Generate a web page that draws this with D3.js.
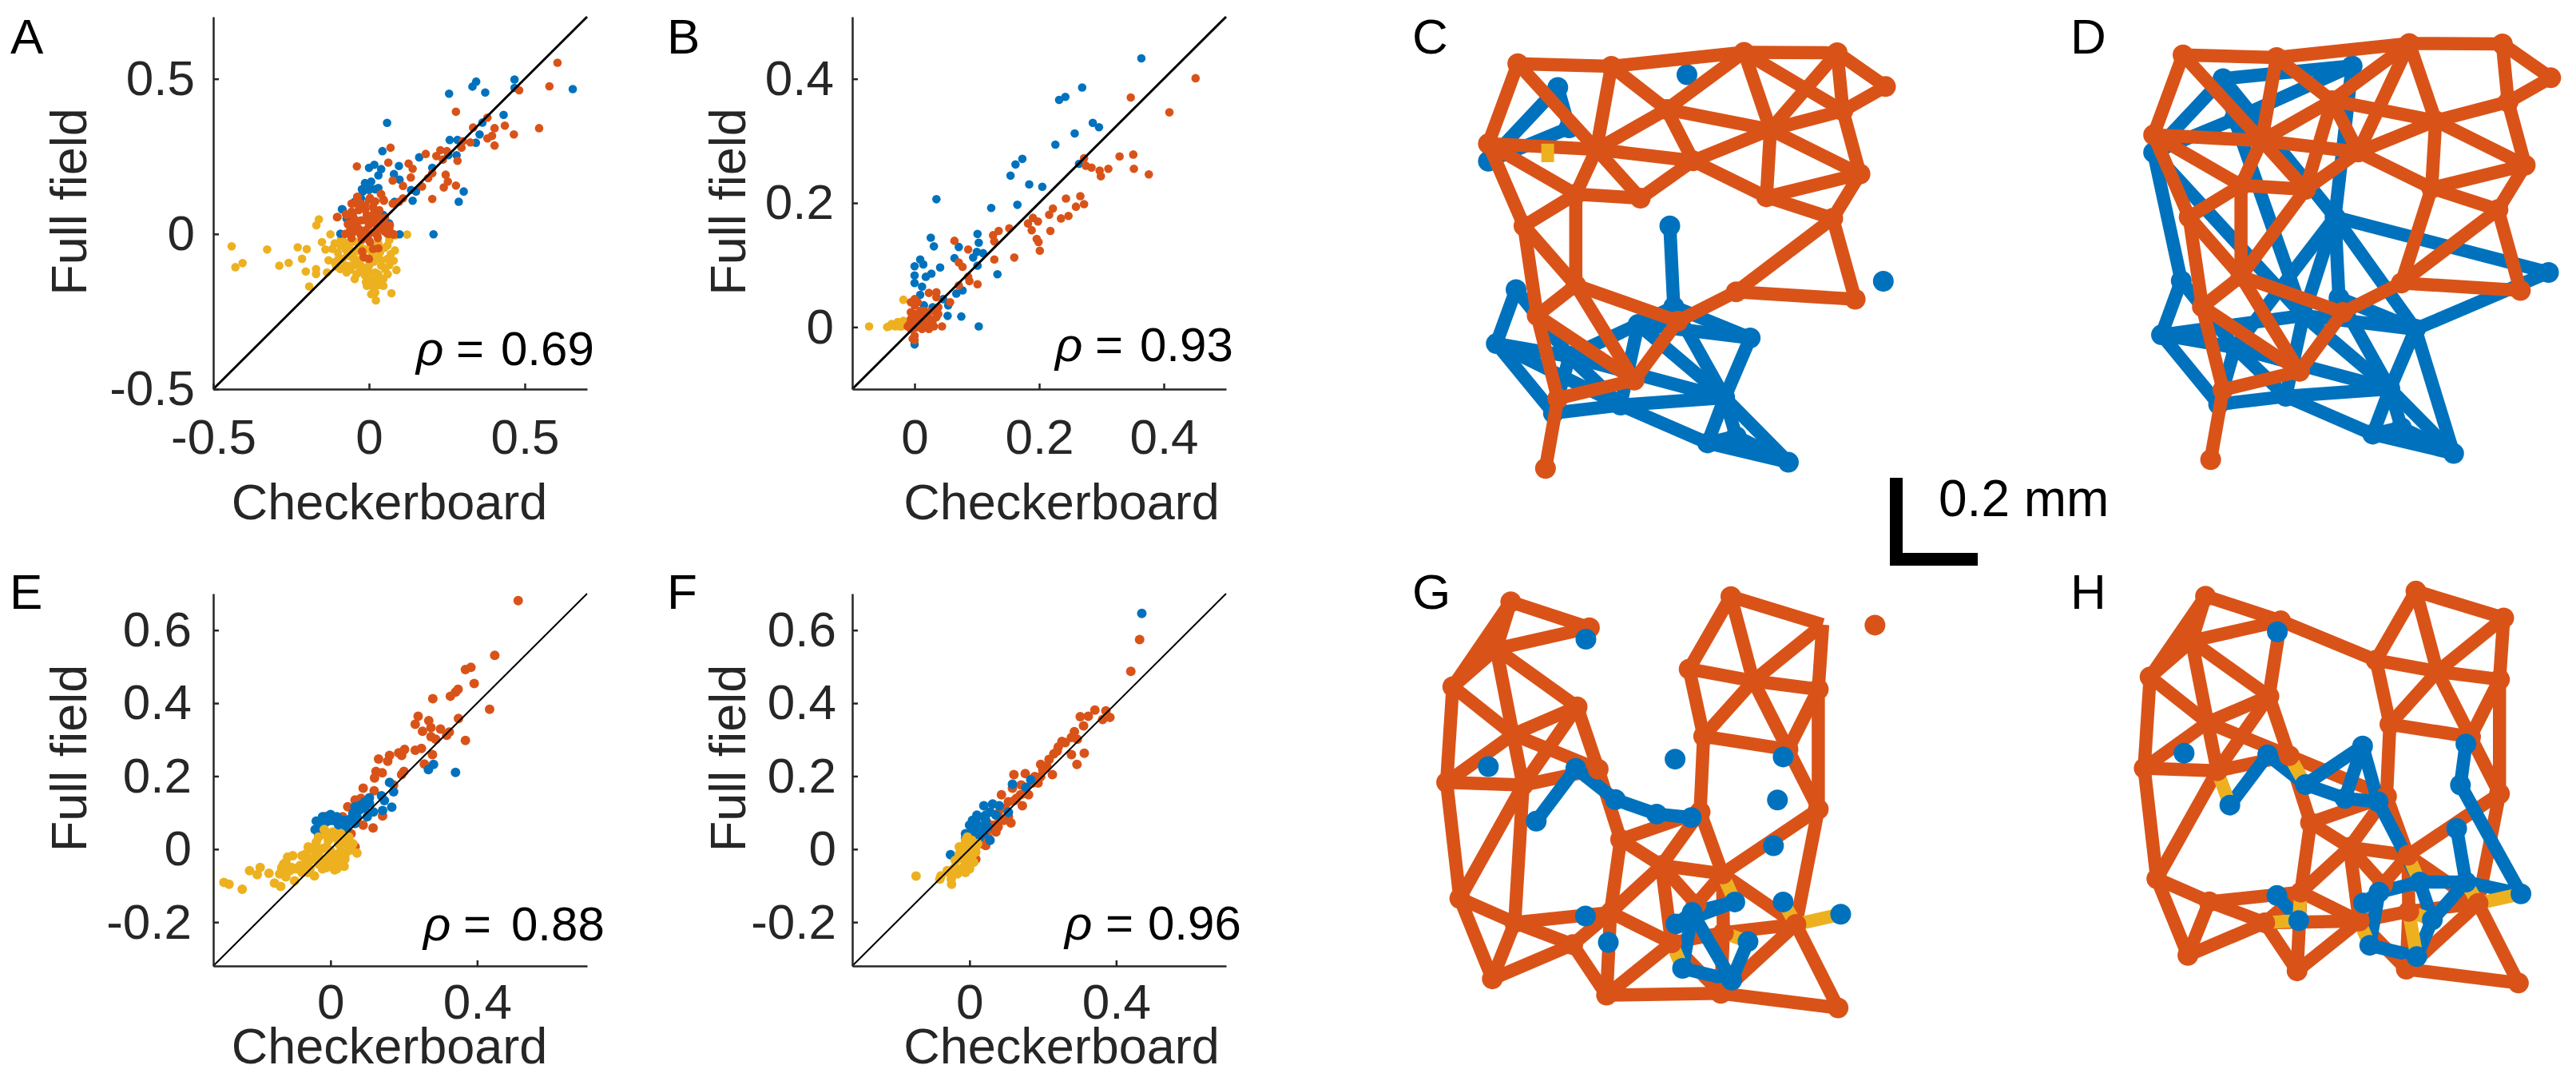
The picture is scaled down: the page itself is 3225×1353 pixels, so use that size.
<!DOCTYPE html>
<html>
<head>
<meta charset="utf-8">
<script src="https://cdn.jsdelivr.net/npm/d3@7"></script>
<style>
body { margin: 0; background: #fff; }
text { font-family: "Liberation Sans", sans-serif; }
</style>
</head>
<body>
<svg id="fig" width="3225" height="1353"></svg>
<script>
const blue = "#0072bd", orange = "#d95319", yellow = "#edb120", ink = "#262626";

// scatter values, checkerboard vs full field
const aBlue = [[.654,.467],[.467,.498],[.467,.471],[.344,.491],[.332,.475],[.373,.456],[.257,.452],[.432,.384],[.058,.358],[.364,.359],[.355,.321],[.259,.303],[.284,.303],[.343,.294],[.043,.267],[.161,.247],[.281,.254],[.255,.254],[0,.213],[.017,.223],[.039,.209],[.096,.219],[.03,.189],[.08,.193],[.098,.175],[.203,.213],[-.013,.164],[.007,.169],[-.02,.137],[.03,.148],[0,.142],[.135,.142],[.151,.137],[.304,.137],[.288,.104],[.14,.107],[.082,.104],[-.085,.079],[-.072,.05],[.046,.061],[.065,.034],[-.092,.001],[.098,-.001],[.207,-.001],[-.046,.104],[-.026,.115],[-.023,.144],[.003,.149],[.02,.144],[-.087,.08]];
const aOrange = [[.605,.552],[.579,.476],[.482,.463],[.279,.394],[.546,.341],[.38,.375],[.334,.343],[.403,.341],[.436,.349],[.465,.321],[.395,.316],[.38,.308],[.403,.285],[.325,.295],[.301,.299],[.297,.278],[.069,.278],[.229,.27],[.25,.267],[.182,.258],[.216,.251],[.237,.24],[.284,.236],[-.039,.218],[.062,.23],[.127,.227],[.14,.21],[.203,.196],[.246,.191],[.19,.18],[.134,.182],[.076,.172],[.253,.169],[.109,.155],[.279,.156],[.24,.15],[.17,.153],[.109,.115],[.203,.113],[.096,.104],[.076,.098],[.039,.128],[-.037,.12],[.048,.107],[-.046,.099],[-.101,.055],[-.072,.061],[0,.11],[-.013,.093],[.013,.088],[.033,.077],[-.033,.077],[-.052,.061],[-.007,.061],[.02,.05],[.046,.039],[-.026,.044],[-.059,.034],[0,.028],[-.033,.017],[.033,.017],[.065,.017],[-.062,.007],[0,.001],[.026,-.004],[.059,.001],[-.026,-.004],[.079,-.002],[0,-.021],[-.02,-.01],[.013,-.048],[.03,-.046],[-.022,-.056],[-.017,-.075],[0,-.08],[.003,.116],[-.038,.119],[-.056,.098],[.038,.129],[.046,.111],[-.103,.054],[-.074,.064],[-.056,.072],[-.023,.093],[.013,.085],[-.077,0],[-.056,-.013],[-.023,-.018],[.003,-.026],[.028,-.013],[.064,0],[.077,0],[.067,.028],[.051,.052],[-.068,.032],[-.048,.05],[-.04,.028],[-.045,.008],[-.012,.078],[-.015,.045],[-.012,.012],[.015,.065],[.018,.034],[.015,.005],[.035,.052],[.05,.008],[.042,.027],[-.03,.1],[.02,.105],[-.06,.018],[.008,.045]];
const aYellow = [[-.441,-.04],[-.327,-.05],[-.429,-.107],[-.406,-.094],[-.288,-.102],[-.258,-.093],[-.229,-.043],[-.2,-.049],[-.215,-.08],[-.169,.028],[-.161,.047],[-.203,-.121],[-.17,-.113],[-.17,-.129],[-.192,-.169],[-.135,-.124],[-.151,-.026],[-.124,-.001],[-.14,-.05],[-.118,-.048],[-.111,-.091],[-.098,-.08],[-.079,-.026],[-.092,-.113],[-.072,-.124],[-.059,-.053],[-.046,-.08],[-.046,-.145],[-.026,-.102],[-.013,-.134],[-.007,-.167],[.007,-.194],[.022,-.214],[.02,-.189],[0,-.102],[.02,-.124],[.039,-.102],[.046,-.145],[.046,-.167],[.072,-.191],[.088,-.116],[.079,-.086],[.083,-.053],[.059,-.08],[.085,-.004],[.122,-.002],[.026,-.069],[-.02,-.048],[-.059,-.102],[-.033,-.124],[0,-.145],[.026,-.151],[.052,-.113],[.059,-.037],[-.092,-.037],[-.039,-.026],[-.072,-.102],[-.11,-.03],[-.09,-.015],[-.1,-.06],[-.075,-.05],[-.06,-.03],[-.085,-.08],[-.07,-.07],[-.055,-.075],[-.04,-.055],[-.03,-.03],[-.02,-.07],[-.045,-.1],[-.03,-.085],[-.01,-.05],[-.005,-.08],[.005,-.03],[.01,-.06],[.015,-.09],[.03,-.03],[.035,-.06],[.04,-.085],[.05,-.045],[.065,-.02],[.07,-.065],[-.08,-.105],[-.06,-.115],[-.04,-.13],[-.015,-.115],[.005,-.125],[.03,-.13],[.015,-.15],[-.01,-.155],[.03,-.165],[.06,-.13],[.065,-.1],[.012,-.17],[-.13,-.085],[-.105,-.105]];

const bBlue = [[.364,.433],[.269,.386],[.242,.371],[.232,.366],[.286,.329],[.296,.322],[.257,.312],[.226,.294],[.173,.271],[.162,.262],[.154,.244],[.264,.263],[.184,.23],[.205,.226],[.035,.206],[.123,.192],[.165,.197],[.101,.15],[.026,.144],[.031,.13],[.103,.136],[.071,.129],[.11,.119],[.1,.121],[.064,.111],[.094,.112],[.009,.109],[.014,.101],[0,.098],[.041,.096],[.101,.099],[.027,.086],[.018,.081],[0,.083],[0,.071],[.133,.085],[.012,.065],[.009,.052],[.077,.059],[.067,.054],[.046,.045],[.015,.035],[.029,.032],[.054,.035],[.053,.018],[.075,.017],[.103,.001],[0,-.028]];
const bOrange = [[.451,.401],[.347,.37],[.409,.346],[.272,.272],[.329,.275],[.351,.278],[.275,.26],[.284,.257],[.297,.252],[.311,.255],[.352,.255],[.299,.243],[.376,.246],[.266,.211],[.243,.207],[.272,.198],[.259,.194],[.222,.191],[.247,.179],[.216,.181],[.235,.175],[.19,.176],[.198,.17],[.182,.167],[.188,.156],[.218,.155],[.152,.159],[.135,.155],[.126,.148],[.196,.142],[.199,.137],[.064,.139],[.128,.138],[.086,.125],[.201,.123],[.128,.109],[.16,.112],[.071,.104],[.077,.097],[.086,.081],[.088,.074],[.071,.067],[.101,.069],[.023,.055],[.035,.056],[.035,.048],[.057,.04],[.044,.001],[0,.045],[0,.035],[.009,.026],[0,.021],[.018,.021],[.031,.026],[.038,.021],[.009,.013],[.025,.013],[.035,.016],[0,.008],[.015,.005],[.028,.005],[.002,-.001],[.012,-.003],[.023,-.003],[-.006,-.003],[0,-.014],[0,-.021],[-.006,.04],[-.006,.024],[-.006,.013],[.005,.04],[.005,.018],[.015,.026],[.015,.016],[.022,.024],[-.008,.005],[.009,.005],[.02,.001],[.029,.01],[.038,.032],[-.003,-.019],[.031,.001],[-.011,.001]];
const bYellow = [[-.073,.001],[-.018,.044],[-.041,.001],[-.037,.005],[-.031,.001],[-.021,.001],[-.014,.006],[-.011,.001],[-.024,.001],[-.044,0],[-.027,.008],[-.018,.01]];

const eOrange = [[.512,.681],[.448,.531],[.383,.498],[.368,.492],[.392,.454],[.348,.438],[.341,.43],[.327,.419],[.279,.412],[.434,.383],[.239,.364],[.349,.358],[.268,.352],[.231,.342],[.274,.333],[.3,.329],[.251,.323],[.324,.321],[.317,.312],[.274,.308],[.287,.301],[.368,.298],[.202,.273],[.248,.276],[.231,.271],[.186,.264],[.194,.257],[.278,.259],[.161,.257],[.131,.247],[.156,.241],[.256,.233],[.2,.213],[.124,.213],[.141,.209],[.12,.195],[.194,.204],[.089,.167],[.172,.176],[.119,.16],[.083,.139],[.067,.135],[.047,.116],[.142,.091],[.116,.058],[.089,.066],[-.017,.089],[.033,.089],[.072,.079],[.056,.042],[.067,.006]];
const eBlue = [[.281,.232],[.267,.218],[.341,.21],[.161,.183],[.172,.157],[.106,.141],[.139,.146],[.147,.133],[.167,.115],[.142,.106],[.094,.13],[.083,.121],[.067,.116],[.117,.102],[.1,.089],[.061,.098],[0,.095],[-.022,.089],[-.039,.077],[.017,.089],[.039,.079],[-.011,.075],[.022,.066],[-.042,.054],[-.033,.042],[.044,.056],[.067,.07],[.006,.079],[.033,.033],[-.017,.079],[0,.079],[.017,.075],[.033,.07],[.044,.066],[-.011,.089],[.006,.089],[.022,.084],[-.028,.07],[-.022,.056],[.056,.084],[.078,.107],[.094,.112],[.106,.126],[.072,.089]];
const eYellow = [[-.291,-.091],[-.277,-.096],[-.241,-.11],[-.221,-.059],[-.192,-.05],[-.2,-.07],[-.168,-.066],[-.153,-.093],[-.136,-.102],[-.098,-.087],[-.139,-.068],[-.128,-.041],[-.117,-.022],[-.103,-.018],[-.133,-.054],[-.122,-.076],[-.106,-.05],[-.078,-.064],[-.044,-.073],[-.078,-.018],[-.061,.006],[-.039,.019],[-.056,-.031],[-.033,-.013],[-.011,.006],[-.017,.054],[.006,.047],[.028,.042],[-.006,.024],[.022,.015],[.044,.015],[.061,.015],[.072,-.011],[.05,-.004],[.022,-.013],[-.006,-.022],[-.033,-.041],[-.011,-.05],[.011,-.057],[.037,-.047],[.039,-.027],[.017,-.036],[-.056,-.054],[-.083,-.045],[-.067,-.013],[-.05,.001],[-.067,-.036],[-.044,-.022],[-.022,.001],[-.022,-.031],[0,-.004],[0,-.036],[.017,-.018],[.028,-.004],[.033,.024],[.05,.033],[.011,.033],[-.011,.038],[-.033,.033],[-.044,.006],[.039,-.018],[.056,.001],[.017,-.054],[-.022,-.054],[-.072,-.045],[-.094,-.054],[-.111,-.059],[-.122,-.036],[-.133,-.05],[-.061,-.064]];

const fOrange = [[.464,.574],[.44,.487],[.342,.381],[.372,.379],[.383,.361],[.363,.355],[.324,.364],[.302,.363],[.311,.338],[.286,.322],[.278,.306],[.294,.301],[.252,.295],[.242,.28],[.313,.263],[.278,.259],[.23,.261],[.217,.246],[.293,.232],[.194,.232],[.211,.227],[.2,.218],[.121,.204],[.152,.207],[.226,.204],[.178,.199],[.141,.176],[.187,.181],[.117,.167],[.161,.149],[.087,.149],[.139,.149],[.106,.13],[.144,.119],[.122,.133],[.097,.112],[.078,.098],[.113,.072],[.094,.079],[.067,.066],[.072,.047],[.05,.033],[.044,.01],[.017,-.027],[.05,.07],[.083,.079],[.106,.089],[.128,.139],[.15,.153],[.172,.181],[.194,.199],[.239,.269],[.261,.292],[.033,.015],[.056,.056],[.078,.061]];
const fBlue = [[.47,.646],[.117,.178],[.167,.19],[.154,.169],[.039,.119],[.063,.124],[.081,.119],[.106,.101],[.056,.102],[.02,.093],[.008,.079],[.039,.089],[.022,.066],[.006,.052],[.033,.061],[.056,.024],[-.052,-.015],[-.011,.029],[.072,.093],[.044,.079],[0,.066],[.017,.079],[.028,.047],[.044,.093],[.011,.033],[.028,.033],[-.011,.042],[.006,.038],[.039,.042],[.05,.061]];
const fYellow = [[-.146,-.074],[-.078,-.073],[-.081,-.082],[-.05,-.082],[-.049,-.096],[-.061,-.059],[-.033,-.064],[-.006,.033],[-.011,.015],[-.022,.006],[.011,.015],[-.028,-.013],[0,-.008],[-.039,-.031],[-.011,-.036],[-.044,-.054],[-.022,-.059],[0,-.054],[.017,.006],[-.011,.024],[.006,.024],[.022,.015],[-.028,.006],[-.006,.006],[.017,-.008],[-.017,-.013],[.006,-.022],[-.033,-.027],[-.011,-.027],[.011,-.036],[-.039,-.05],[-.017,-.05],[0,-.045],[-.056,-.064],[-.033,-.068],[-.011,-.064]];

const ticksAB = { a: [-0.5, 0, 0.5], b: [0, 0.2, 0.4] };
const ticksEFx = [0, 0.4];
const ticksEFy = [-0.2, 0, 0.2, 0.4, 0.6];

// electrode layout in mm; edges are 1-based node numbers
const cdOrange = [[.364,.145],[.577,.151],[.879,.119],[1.091,.12],[1.201,.197],[.703,.249],[1.104,.252],[.297,.327],[.543,.34],[.939,.295],[.763,.366],[1.143,.396],[.496,.442],[.643,.451],[.93,.448],[1.081,.497],[.378,.514],[.496,.649],[.861,.664],[1.132,.681],[.408,.718],[.728,.731],[.629,.865],[.455,.907],[.427,1.066]];
const cdBlue = [[.455,.199],[.481,.291],[.297,.367],[.749,.17],[.71,.514],[1.196,.64],[.719,.698],[.36,.659],[.315,.782],[.638,.738],[.893,.769],[.835,.905],[.445,.94],[.598,.922],[.796,1.008],[.861,.993],[.98,1.052],[.482,.811]];
const cOrangeEdges = [[1,2],[2,3],[3,4],[4,5],[5,7],[4,7],[3,7],[4,10],[3,6],[3,10],[2,6],[2,9],[1,8],[1,9],[6,9],[6,10],[6,11],[7,10],[7,12],[10,11],[10,12],[10,15],[9,8],[9,11],[9,13],[9,14],[11,14],[11,15],[15,12],[15,16],[12,16],[8,13],[8,17],[13,14],[13,17],[13,18],[17,18],[17,21],[18,21],[18,22],[18,23],[21,23],[21,24],[23,24],[22,23],[22,19],[19,16],[19,20],[16,20],[24,25]];
const dOrangeEdges = [[1,2],[2,3],[3,4],[4,5],[5,7],[4,7],[3,11],[3,6],[3,10],[2,6],[2,9],[1,8],[1,9],[6,9],[6,10],[6,11],[6,14],[7,10],[7,12],[10,11],[10,12],[10,15],[9,8],[9,11],[9,13],[9,14],[11,14],[11,15],[15,12],[15,16],[15,19],[12,16],[8,13],[8,17],[13,14],[13,17],[13,18],[14,18],[17,18],[17,21],[18,21],[18,22],[18,23],[21,23],[21,24],[23,24],[22,23],[22,19],[19,16],[19,20],[16,20],[24,25]];
const cBlueEdges = [[1,3],[1,2],[2,3],[5,7],[7,11],[7,10],[7,12],[8,9],[8,18],[9,13],[9,18],[9,14],[10,11],[10,12],[10,18],[10,14],[11,12],[12,14],[12,15],[12,16],[12,17],[15,17],[16,17],[15,16],[14,15],[13,14],[13,18],[14,18],[18,12]];
const dBlueEdges = [[1,4],[2,4],[3,1],[3,2],[1,2],[1,5],[4,5],[2,10],[3,10],[3,8],[8,9],[9,13],[9,10],[9,18],[8,18],[5,7],[5,10],[5,18],[5,11],[5,6],[6,11],[7,11],[10,11],[10,12],[7,12],[11,12],[11,17],[12,17],[12,15],[12,16],[12,14],[14,15],[15,17],[16,17],[15,16],[13,14],[13,18],[14,18],[18,12],[10,14]];
const cYellowStub = [[.432,.327],[.432,.369]];

const ghOrange = [[.348,.115],[.527,.174],[.315,.222],[.216,.308],[.499,.354],[.353,.417],[.832,.868],[.202,.526],[.376,.532],[.547,.496],[.232,.79],[.357,.845],[.575,.822],[.489,.895],[.306,.973],[.566,1.01],[.598,.656],[.691,.715],[.779,.593],[.83,.734],[.714,.891],[.77,.803],[.826,1.006],[.997,.849],[1.093,1.039],[.849,.103],[1.058,.167],[.754,.268],[.9,.295],[1.048,.314],[.787,.421],[.979,.451],[1.048,.587],[1.177,.168]];
const ghBlue = [[.519,.2],[.297,.49],[.496,.494],[.722,.473],[.968,.468],[.955,.566],[.406,.614],[.586,.565],[.68,.598],[.759,.606],[.946,.67],[.858,.798],[.968,.798],[1.099,.826],[.518,.83],[.57,.89],[.724,.848],[.761,.822],[.888,.888],[.739,.949],[.851,.976]];
const gOrangeEdges = [[1,2],[1,4],[1,3],[3,2],[3,4],[3,5],[3,6],[6,9],[4,6],[6,10],[8,6],[6,5],[5,9],[5,10],[4,8],[8,9],[9,10],[8,11],[9,11],[9,12],[11,12],[11,15],[12,15],[12,13],[12,14],[14,13],[14,15],[14,16],[13,16],[13,17],[13,18],[13,21],[16,21],[16,23],[10,17],[17,19],[17,18],[18,19],[18,20],[18,21],[18,22],[19,20],[20,22],[20,33],[20,24],[21,23],[21,7],[7,24],[20,7],[7,23],[23,24],[23,25],[24,25],[19,31],[33,24],[33,30],[33,32],[32,31],[32,30],[32,29],[29,31],[29,26],[29,27],[29,28],[29,30],[28,26],[28,31],[26,27],[27,30]];
const hOrangeEdges = [[1,2],[1,4],[1,3],[3,2],[3,4],[3,5],[3,6],[6,9],[4,6],[6,10],[8,6],[6,5],[5,9],[5,10],[4,8],[8,9],[9,10],[8,11],[9,11],[11,12],[11,15],[12,15],[12,13],[12,14],[14,13],[14,15],[14,16],[14,21],[13,16],[13,17],[13,18],[13,21],[16,21],[10,17],[10,19],[2,28],[2,5],[17,19],[17,18],[18,19],[18,20],[18,21],[18,22],[19,20],[20,22],[20,33],[20,24],[21,23],[21,7],[7,24],[20,7],[7,23],[23,24],[23,25],[24,25],[19,31],[33,24],[33,30],[33,32],[32,31],[32,30],[32,29],[29,31],[29,26],[29,27],[29,28],[29,30],[28,26],[28,31],[26,27],[27,30]];
const gBlueEdges = [[3,7],[3,8],[8,9],[9,10],[17,18],[18,12],[17,12],[18,20],[18,21],[20,21],[21,19]];
const hBlueEdges = [[3,7],[3,8],[8,4],[8,9],[4,9],[4,10],[9,10],[10,12],[5,6],[6,14],[11,13],[13,14],[12,13],[12,18],[17,18],[18,20],[20,21],[12,19],[13,19],[21,19],[15,16]];
// yellow edges: orange node, blue node
const gYellowEdges = [[20,12],[24,13],[24,14],[21,20],[7,19]];
const hYellowEdges = [[9,7],[10,8],[20,12],[24,13],[24,14],[21,20],[13,16],[14,16],[7,19],[7,21]];
const gHiddenOrange = [27];
const hHiddenOrange = [34];

const svg = d3.select("#fig");

function scatter(p) {
    const x = d3.scaleLinear().domain(p.xDomain).range(p.xRange);
    const y = d3.scaleLinear().domain(p.yDomain).range(p.yRange);

    p.layers.forEach(([pts, color]) => {
        svg.append("g").attr("fill", color)
            .selectAll("circle")
            .data(pts)
            .join("circle")
            .attr("cx", d => x(d[0]))
            .attr("cy", d => y(d[1]))
            .attr("r", p.r);
    });

    svg.append("line")
        .attr("x1", x(p.xDomain[0])).attr("y1", y(p.yDomain[0]))
        .attr("x2", x(p.xDomain[1])).attr("y2", y(p.yDomain[1]))
        .attr("stroke", "#000").attr("stroke-width", p.diag);

    const gx = svg.append("g")
        .attr("transform", `translate(0,${p.yRange[0]})`)
        .call(d3.axisBottom(x).tickValues(p.xTicks).tickFormat(String)
            .tickSize(-7).tickSizeOuter(0).tickPadding(p.xPad));
    const gy = svg.append("g")
        .attr("transform", `translate(${p.xRange[0]},0)`)
        .call(d3.axisLeft(y).tickValues(p.yTicks).tickFormat(String)
            .tickSize(-7).tickSizeOuter(0).tickPadding(p.yPad));
    [gx, gy].forEach(g => {
        g.selectAll("path,line").attr("stroke", ink).attr("stroke-width", 2.5);
        g.selectAll("text").attr("fill", ink)
            .style("font-size", "62px").style("font-family", "Liberation Sans");
    });

    svg.append("text").attr("x", p.xLabel[0]).attr("y", p.xLabel[1])
        .attr("text-anchor", "middle").attr("fill", ink).style("font-size", "63px")
        .text("Checkerboard");
    svg.append("text")
        .attr("transform", `translate(${p.yLabel[0]},${p.yLabel[1]}) rotate(-90)`)
        .attr("text-anchor", "middle").attr("fill", ink).style("font-size", "63px")
        .text("Full field");

    const r = svg.append("g").attr("fill", "#000").style("font-size", "60px");
    r.append("text").attr("x", p.rho[0]).attr("y", p.rho[3]).style("font-style", "italic").text("ρ");
    r.append("text").attr("x", p.rho[1]).attr("y", p.rho[3]).text("=");
    r.append("text").attr("x", p.rho[2]).attr("y", p.rho[3]).text(p.rhoValue);
}

function network(p) {
    const x = d3.scaleLinear().domain([0, 1]).range(p.xRange);
    const y = d3.scaleLinear().domain([0, 1]).range(p.yRange);

    const edges = (list, from, to, color) => svg.append("g")
        .attr("stroke", color).attr("stroke-width", 16.5)
        .selectAll("line")
        .data(list)
        .join("line")
        .attr("x1", d => x(from[d[0] - 1][0])).attr("y1", d => y(from[d[0] - 1][1]))
        .attr("x2", d => x(to[d[1] - 1][0])).attr("y2", d => y(to[d[1] - 1][1]));
    const nodes = (list, color, hidden) => svg.append("g").attr("fill", color)
        .selectAll("circle")
        .data(list.filter((d, i) => !hidden.includes(i + 1)))
        .join("circle")
        .attr("cx", d => x(d[0])).attr("cy", d => y(d[1])).attr("r", 13);

    if (p.blueOnTop) {
        edges(p.orangeEdges, p.orange, p.orange, orange);
        edges(p.blueEdges, p.blue, p.blue, blue);
        edges(p.yellowEdges, p.orange, p.blue, yellow);
        nodes(p.orange, orange, p.hidden);
        nodes(p.blue, blue, []);
    } else {
        edges(p.blueEdges, p.blue, p.blue, blue);
        nodes(p.blue, blue, []);
        edges(p.orangeEdges, p.orange, p.orange, orange);
        nodes(p.orange, orange, []);
        if (p.stub) {
            svg.append("line")
                .attr("x1", x(p.stub[0][0])).attr("y1", y(p.stub[0][1]))
                .attr("x2", x(p.stub[1][0])).attr("y2", y(p.stub[1][1]))
                .attr("stroke", yellow).attr("stroke-width", 16);
        }
    }
}

const topY = [487, 21], botY = [1209, 743];
const leftX = [267, 735], midX = [1067, 1535];

scatter({ xDomain: [-0.5, 0.7], yDomain: [-0.5, 0.7], xRange: leftX, yRange: topY, r: 5.3,
    diag: 3, xTicks: ticksAB.a, yTicks: ticksAB.a, xPad: 37, yPad: 23,
    layers: [[aYellow, yellow], [aBlue, blue], [aOrange, orange]],
    xLabel: [487.5, 650], yLabel: [108, 252.5], rho: [521, 571, 627, 457], rhoValue: "0.69" });
scatter({ xDomain: [-0.1, 0.5], yDomain: [-0.1, 0.5], xRange: midX, yRange: topY, r: 5.3,
    diag: 3, xTicks: ticksAB.b, yTicks: ticksAB.b, xPad: 37, yPad: 23,
    layers: [[bYellow, yellow], [bBlue, blue], [bOrange, orange]],
    xLabel: [1329, 650], yLabel: [932.6, 252.5], rho: [1321, 1371, 1427, 452], rhoValue: "0.93" });
scatter({ xDomain: [-0.32, 0.7], yDomain: [-0.32, 0.7], xRange: leftX, yRange: botY, r: 6,
    diag: 2, xTicks: ticksEFx, yTicks: ticksEFy, xPad: 22, yPad: 27,
    layers: [[eOrange, orange], [eBlue, blue], [eYellow, yellow]],
    xLabel: [487.5, 1330.6], yLabel: [108, 949], rho: [530, 580, 640, 1177], rhoValue: "0.88" });
scatter({ xDomain: [-0.32, 0.7], yDomain: [-0.32, 0.7], xRange: midX, yRange: botY, r: 6,
    diag: 2, xTicks: ticksEFx, yTicks: ticksEFy, xPad: 22, yPad: 20,
    layers: [[fOrange, orange], [fBlue, blue], [fYellow, yellow]],
    xLabel: [1329, 1330.6], yLabel: [932.6, 949], rho: [1333, 1384, 1437, 1176], rhoValue: "0.96" });

network({ xRange: [1700, 2250], yRange: [0, 550], orange: cdOrange, blue: cdBlue,
    orangeEdges: cOrangeEdges, blueEdges: cBlueEdges, stub: cYellowStub });
network({ xRange: [2532.8, 3082.8], yRange: [-11, 539], orange: cdOrange, blue: cdBlue,
    orangeEdges: dOrangeEdges, blueEdges: dBlueEdges });
network({ xRange: [1700, 2250], yRange: [690, 1240], orange: ghOrange, blue: ghBlue, blueOnTop: true,
    orangeEdges: gOrangeEdges, blueEdges: gBlueEdges, yellowEdges: gYellowEdges, hidden: gHiddenOrange });
network({ xRange: [2578.2, 3104], yRange: [685.9, 1209.9], orange: ghOrange, blue: ghBlue, blueOnTop: true,
    orangeEdges: hOrangeEdges, blueEdges: hBlueEdges, yellowEdges: hYellowEdges, hidden: hHiddenOrange });

// panel letters
const panelLetters = ["A", "B", "C", "D", "E", "F", "G", "H"];
const letterX = [13, 835, 1768, 2592, 12, 835, 1768, 2592];
const letterY = [67, 67, 67, 67, 762, 762, 762, 762];
svg.append("g").attr("fill", "#000").style("font-size", "62px")
    .selectAll("text")
    .data(panelLetters)
    .join("text")
    .attr("x", (d, i) => letterX[i])
    .attr("y", (d, i) => letterY[i])
    .text(d => d);

// scale bar, 0.2 mm each way
const barLength = 0.2;
const barX = d3.scaleLinear().domain([0, 1]).range([2366, 2916]);
const barY = d3.scaleLinear().domain([0, 1]).range([708, 158]);
svg.append("path")
    .attr("d", `M${barX(0) + 8},${barY(barLength)}V${barY(0) - 8}H${barX(barLength)}`)
    .attr("fill", "none").attr("stroke", "#000").attr("stroke-width", 16);
svg.append("text").attr("x", 2427).attr("y", 646).attr("fill", "#000")
    .style("font-size", "64px").text("0.2 mm");
</script>
</body>
</html>
